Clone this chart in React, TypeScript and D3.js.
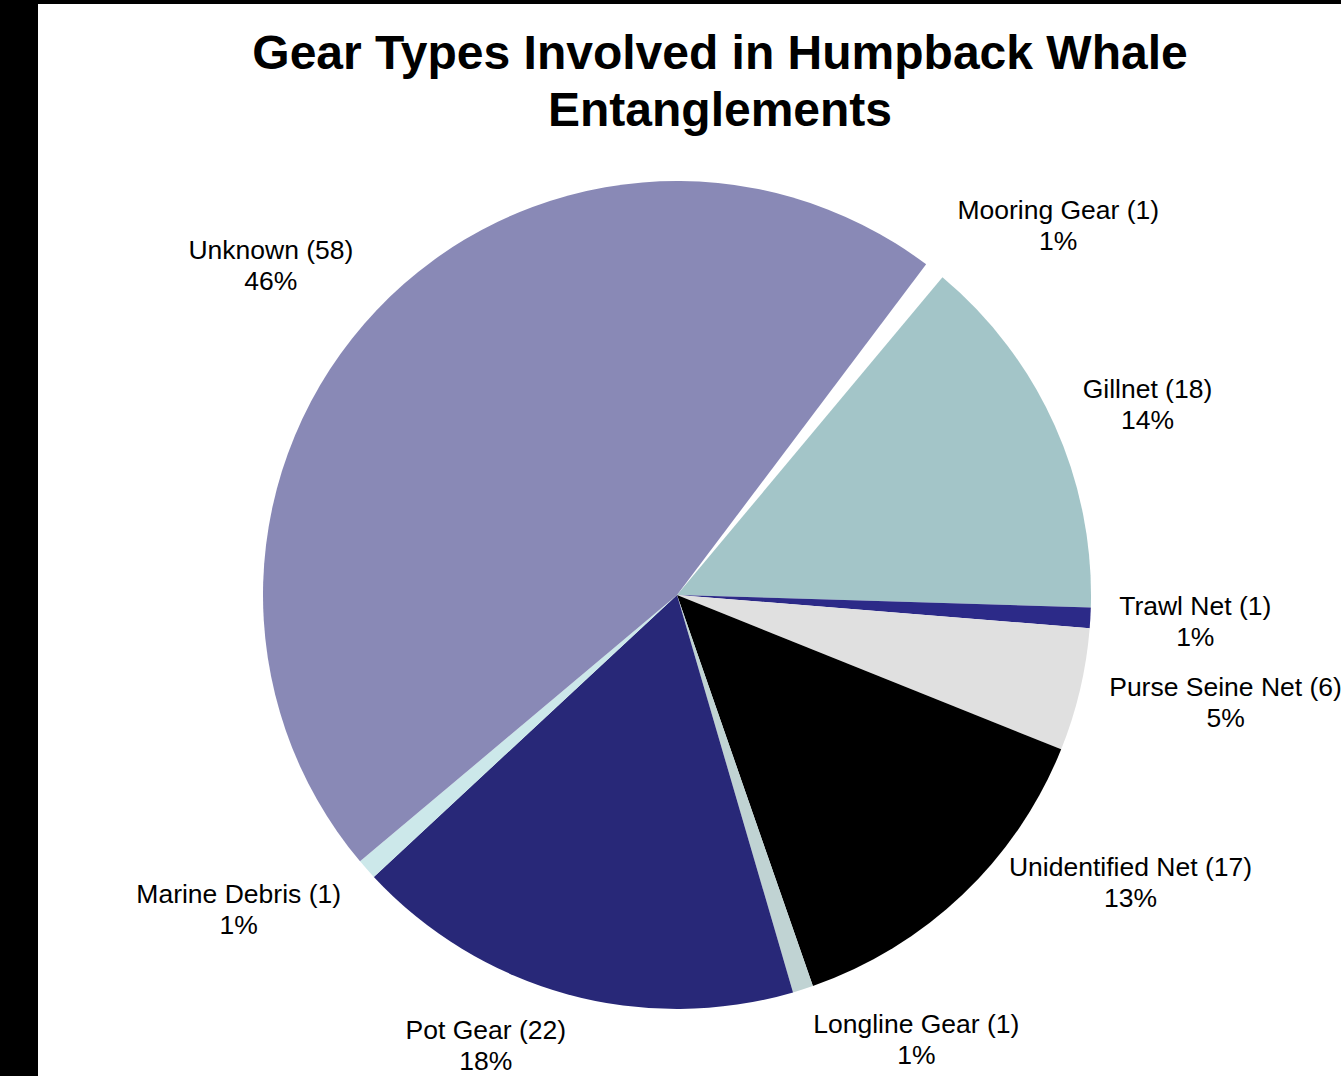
import React from "react";
import * as d3 from "d3";

const categories = [
  "Mooring Gear",
  "Gillnet",
  "Trawl Net",
  "Purse Seine Net",
  "Unidentified Net",
  "Longline Gear",
  "Pot Gear",
  "Marine Debris",
  "Unknown",
];
const counts = [1, 18, 1, 6, 17, 1, 22, 1, 58];
const percentLabels = ["1%", "14%", "1%", "5%", "13%", "1%", "18%", "1%", "46%"];
const colors = [
  "#FFFFFF",
  "#A3C5C8",
  "#2C2A88",
  "#E0E0E0",
  "#000000",
  "#C0D3D3",
  "#282878",
  "#CCE8EA",
  "#8989B6",
];
const titleLines = ["Gear Types Involved in Humpback Whale", "Entanglements"];

// label layout nudges (pixels), Excel "best fit" adjustments
const labelNudges: [number, number][] = [
  [45, -1],
  [10, 3],
  [3, 1],
  [7, 0],
  [66, -53],
  [74, -4],
  [-53, -4],
  [-32, 3],
  [-27, -5],
];

const W = 1341;
const H = 1076;
const CX = 677;
const CY = 595;
const R = 414;
const START_DEG = 37;
const LABEL_FONT = 26.5;
const LINE_GAP = 31;

function measure(text: string, font: string): number {
  const c = document.createElement("canvas").getContext("2d");
  if (!c) return text.length * LABEL_FONT * 0.5;
  c.font = font;
  return c.measureText(text).width;
}

export default function App() {
  const start = (START_DEG * Math.PI) / 180;
  const pie = d3
    .pie<number>()
    .sort(null)
    .value((d) => d)
    .startAngle(start)
    .endAngle(start + 2 * Math.PI);
  const arcs = pie(counts);
  const arc = d3.arc<d3.PieArcDatum<number>>().innerRadius(0).outerRadius(R);
  const font = `${LABEL_FONT}px "Liberation Sans", Arial, sans-serif`;

  return (
    <svg
      width={W}
      height={H}
      style={{ position: "absolute", left: 0, top: 0, display: "block" }}
    >
      <rect x={0} y={0} width={W} height={H} fill="#000" />
      <rect x={38} y={4} width={W - 38} height={H - 4} fill="#fff" />
      <g
        fontFamily='"Liberation Sans", Arial, sans-serif'
        fontWeight="bold"
        fontSize={48}
        textAnchor="middle"
        fill="#000"
      >
        {titleLines.map((t, i) => (
          <text key={i} x={720} y={69 + i * 57}>
            {t}
          </text>
        ))}
      </g>
      <g transform={`translate(${CX},${CY})`}>
        {arcs.map((a, i) => (
          <path key={i} d={arc(a) || ""} fill={colors[i]} />
        ))}
      </g>
      <g
        fontFamily='"Liberation Sans", Arial, sans-serif'
        fontSize={LABEL_FONT}
        textAnchor="middle"
        fill="#000"
      >
        {arcs.map((a, i) => {
          const mid = (a.startAngle + a.endAngle) / 2;
          const dx = Math.sin(mid);
          const dy = -Math.cos(mid);
          const line1 = `${categories[i]} (${counts[i]})`;
          const w = measure(line1, font);
          const rl = R + 26;
          const cx = CX + rl * dx + (dx * w) / 2 + labelNudges[i][0];
          const cy = CY + rl * dy + dy * LINE_GAP + labelNudges[i][1];
          return (
            <g key={i}>
              <text x={cx} y={cy - LINE_GAP / 2} dominantBaseline="central">
                {line1}
              </text>
              <text x={cx} y={cy + LINE_GAP / 2} dominantBaseline="central">
                {percentLabels[i]}
              </text>
            </g>
          );
        })}
      </g>
    </svg>
  );
}
